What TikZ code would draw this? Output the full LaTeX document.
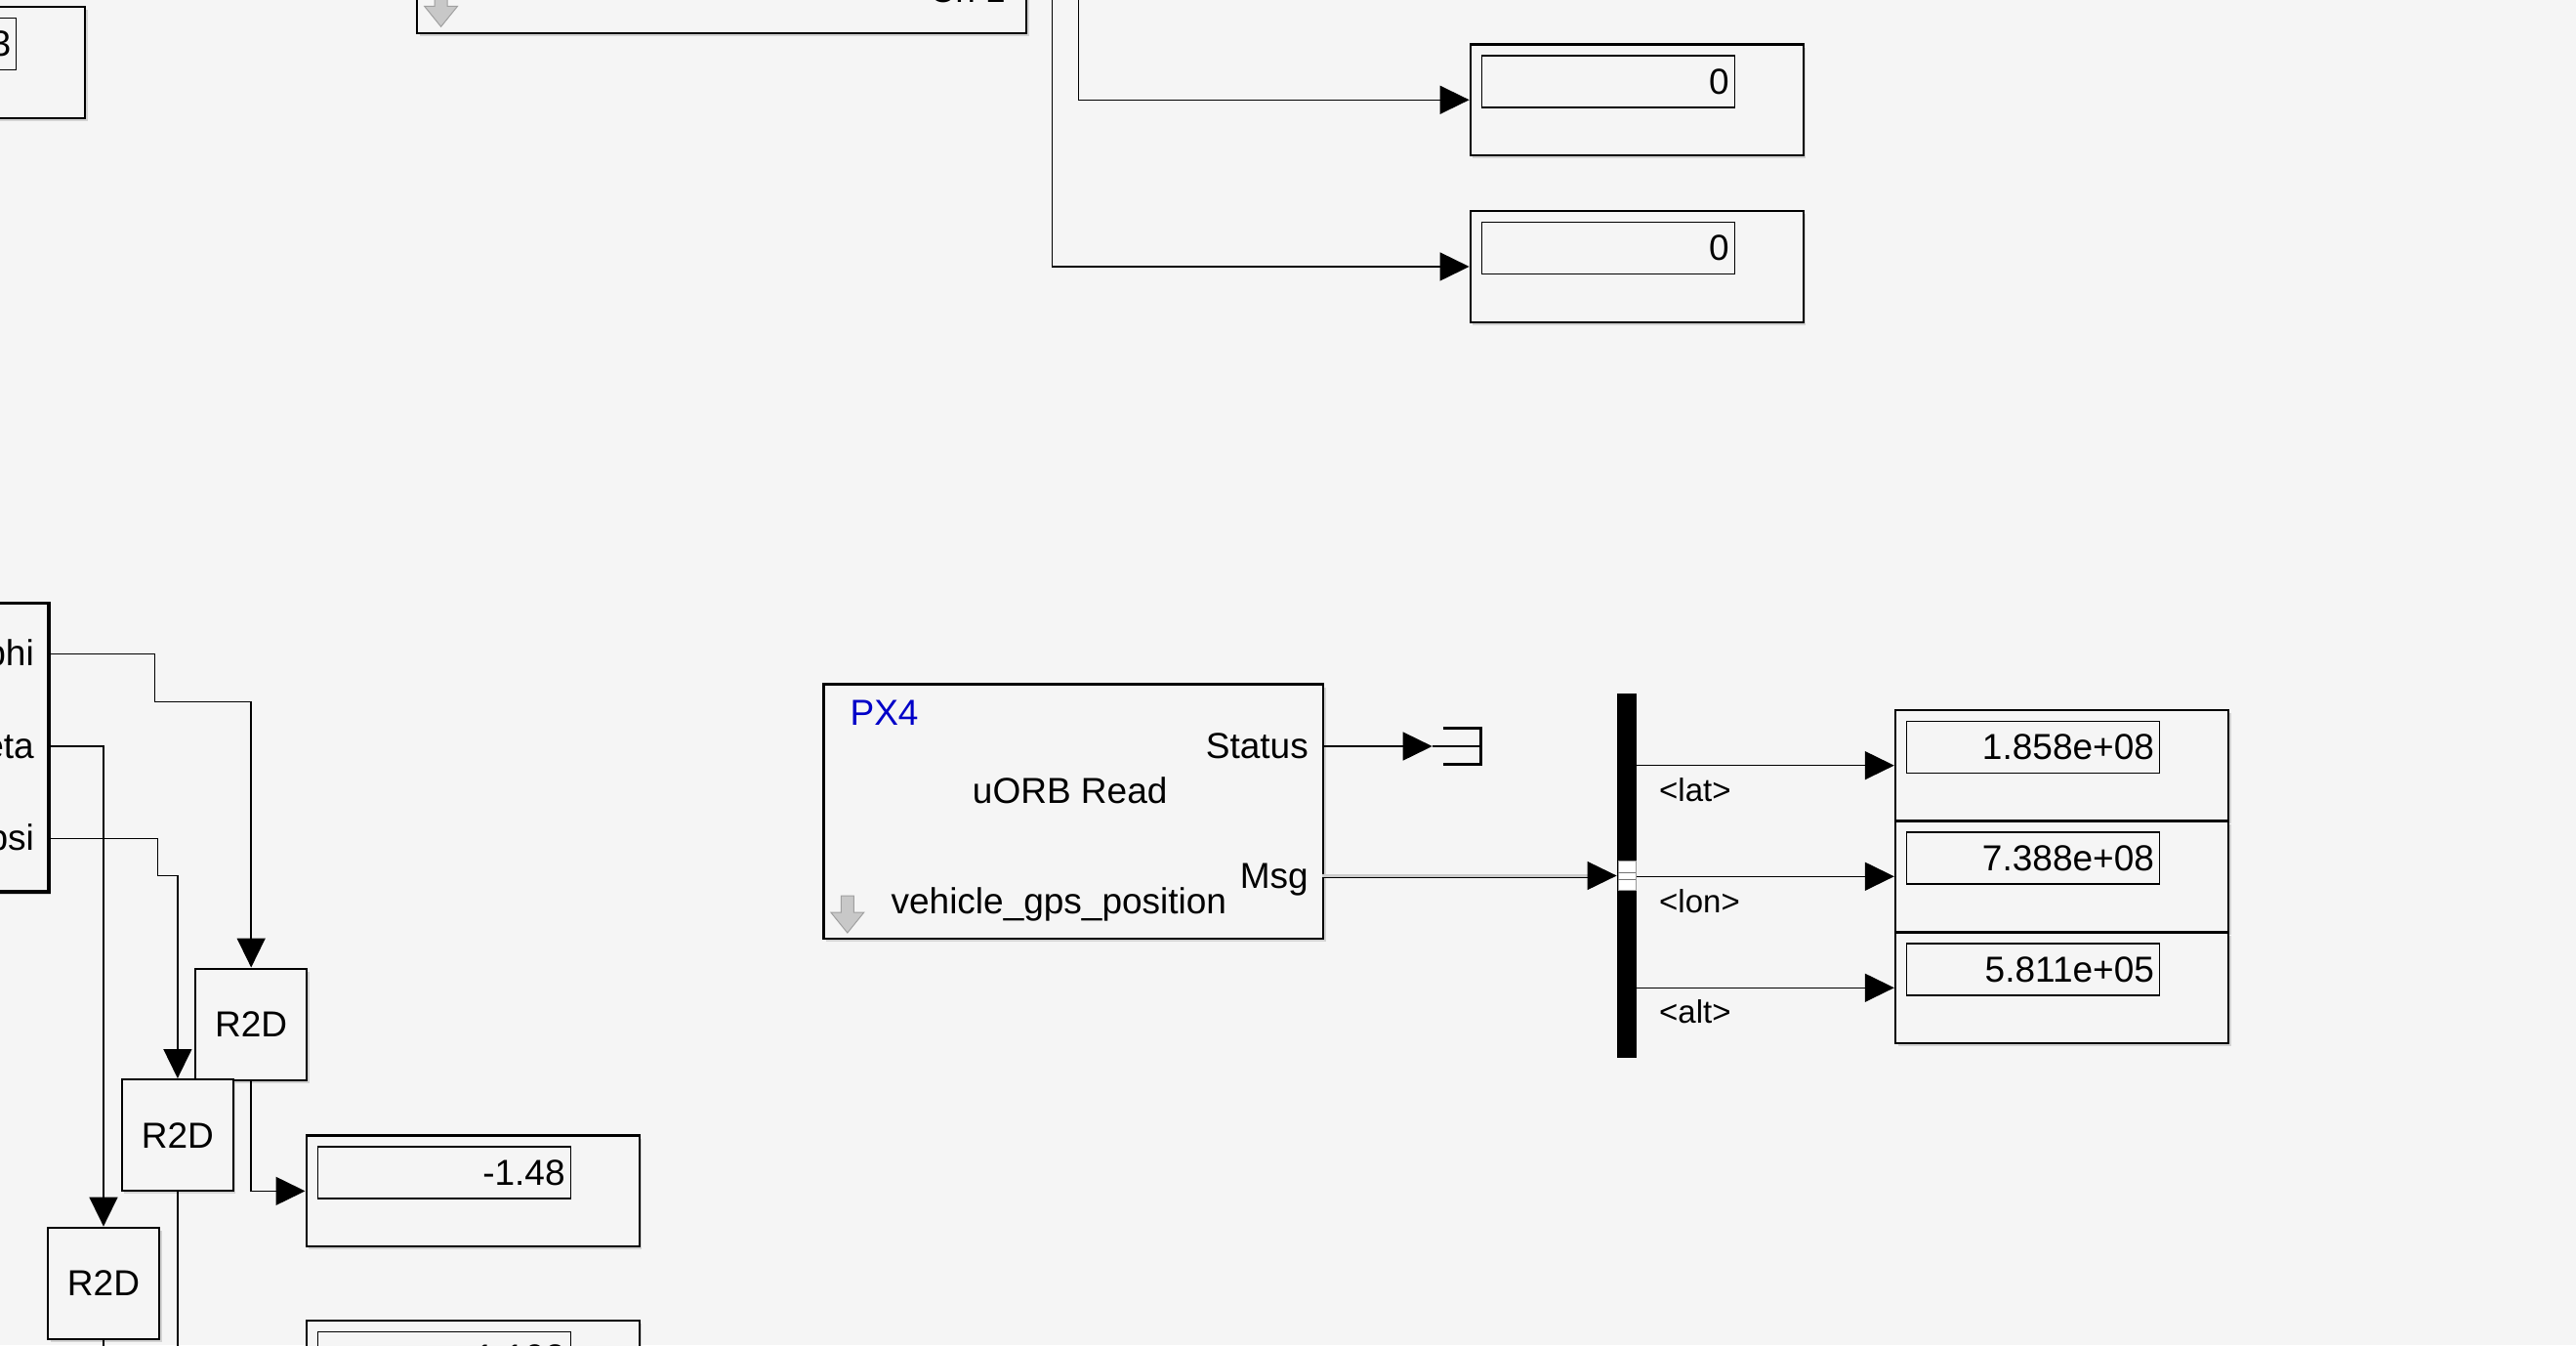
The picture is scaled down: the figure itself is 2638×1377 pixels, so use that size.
\documentclass[tikz,border=0pt]{standalone}
\usepackage{fontspec}
\setmainfont{Liberation Sans}
\usetikzlibrary{arrows.meta,shadows,calc}
\definecolor{bgc}{RGB}{245,245,245}
\definecolor{pxblue}{RGB}{0,0,200}
\definecolor{arrgray}{RGB}{200,200,200}
\definecolor{arredge}{RGB}{160,160,160}
\newcommand{\dispblk}[4]{%
  \node[blk, minimum width=341pt, minimum height=113.5pt] (#1) at (#2,#3) {};
  \node[inbox] (#1in) at (#2+12,#3+12) {};
  \node[lbl, anchor=east] (#1txt) at ($(#1in.east)+(-6,0)$) {#4};
}
\newcommand{\lookarrow}[2]{%
  \path[fill=arrgray, draw=arredge, line width=1pt] (#1-6.5,#2-38) -- (#1+6.5,#2-38) -- (#1+6.5,#2-21) -- (#1+17,#2-21) -- (#1,#2) -- (#1-17,#2-21) -- (#1-6.5,#2-21) -- cycle;
}
\begin{document}
\begin{tikzpicture}[x=1pt,y=-1pt,
  blk/.style={draw=black, line width=2.4pt, fill=bgc, drop shadow={shadow xshift=2.5pt, shadow yshift=-3pt, fill=black!30}, inner sep=0pt, anchor=north west},
  inbox/.style={draw=black, line width=1.3pt, fill=bgc, inner sep=0pt, minimum width=259pt, minimum height=53pt, anchor=north west},
  conn/.style={draw=black, line width=1.5pt, -{Triangle[length=30pt,width=29pt]}},
  wire/.style={draw=black, line width=1.5pt},
  lbl/.style={font=\fontsize{37}{44}\selectfont, inner sep=0pt},
  sig/.style={font=\fontsize{33}{40}\selectfont, inner sep=0pt},
]
\useasboundingbox[fill=bgc] (0,0) rectangle (2638,1377);

% ---- top area ----
\dispblk{dtl}{-255}{6}{3}
\node[blk, minimum width=624pt, minimum height=340pt] (topblk) at (426,-307) {};
\node[lbl, anchor=base east] (toplbl) at (1030,2.5) {Ch 1};
\lookarrow{451.6}{27.3}

\dispblk{d1}{1504.6}{44.3}{0}
\dispblk{d2}{1504.6}{215}{0}
\coordinate (srcA) at (1104.5,-20);
\coordinate (srcB) at (1077.5,-20);
\draw[conn] (srcA) |- (d1.west);
\draw[conn] (srcB) |- (d2.west);

% ---- left area ----
\node[blk, line width=3.5pt, minimum width=300pt, minimum height=295.3pt] (busout) at (-252,615.9) {};
\node[lbl, anchor=base east] (lphi) at (35,681.4) {phi};
\node[lbl, anchor=base east] (ltheta) at (35,776) {theta};
\node[lbl, anchor=base east] (lpsi) at (35,870.7) {psi};
\coordinate (pphi) at (48.2,669.4);
\coordinate (ptheta) at (48.2,764);
\coordinate (ppsi) at (48.2,858.7);

\node[blk, lbl, minimum width=114pt, minimum height=114pt] (r1) at (199,990.5) {R2D};
\node[blk, lbl, minimum width=114pt, minimum height=114pt] (r2) at (123.7,1104) {R2D};
\node[blk, lbl, minimum width=114pt, minimum height=114pt] (r3) at (47.8,1255.6) {R2D};

\draw[conn] (pphi) -- (158.5,669.4) -- (158.5,718.4) -| (r1.north);
\draw[conn] (ptheta) -| (r3.north);
\draw[conn] (ppsi) -- (161.6,858.7) -- (161.6,896.3) -| (r2.north);

\dispblk{d148}{312.5}{1161.4}{-1.48}
\dispblk{dbot}{312.5}{1350.7}{1.102}
\draw[conn] (r1.south) |- (d148.west);
\draw[wire] (r2.south) -- ++(0,200);
\draw[wire] (r3.south) -- ++(0,100);

% ---- PX4 uORB Read ----
\node[blk, minimum width=511.7pt, minimum height=260.7pt] (px4) at (842.3,699.3) {};
\node[lbl, anchor=base west, text=pxblue] (tpx4) at (870.4,742.3) {PX4};
\node[lbl, anchor=base east] (tstatus) at (1340,776.7) {Status};
\node[lbl, anchor=base] (tuorb) at (1095.7,822.7) {uORB Read};
\node[lbl, anchor=base east] (tmsg) at (1340,909.3) {Msg};
\node[lbl, anchor=base west] (ttopic) at (912.4,935.3) {vehicle\_gps\_position};
\lookarrow{867.8}{955}
\coordinate (pstatus) at (1354,764);
\coordinate (pmsg) at (1354,896.5);

% terminator
\node[minimum width=39pt, minimum height=37.3pt, inner sep=0pt] (term) at (1497.2,764) {};
\draw[line width=3pt] (term.north west) -- (term.north east) -- (term.south east) -- (term.south west);
\coordinate (termin) at (1466.7,764);
\draw[conn] (pstatus) -- (termin);
\draw[wire] (termin) -- (term.east);

% ---- bus selector ----
\node[fill=black, draw=none, minimum width=20.4pt, minimum height=372.3pt, inner sep=0pt, anchor=north west] (bsel) at (1655.6,710) {};
\coordinate (bsin) at (1655.6,896.5);
\draw[line width=0.9pt, double=black!20, double distance=2.2pt, -{Triangle[length=30pt,width=29pt]}] (pmsg) -- (bsin);
\node[fill=white, draw=black!40, line width=0.8pt, minimum width=17.5pt, minimum height=29.7pt, inner sep=0pt, anchor=north west] (bsport) at (1657,881) {};
\draw[black!55, line width=1pt] (bsport.west |- 0,893.3) -- (bsport.east |- 0,893.3);
\draw[black!55, line width=1pt] (bsport.west |- 0,900) -- (bsport.east |- 0,900);

\dispblk{dl1}{1939.8}{725.7}{1.858e+08}
\dispblk{dl2}{1939.8}{839.3}{7.388e+08}
\dispblk{dl3}{1939.8}{953.3}{5.811e+05}
\draw[conn] (bsel.east |- dl1.west) -- (dl1.west);
\draw[conn] (bsel.east |- dl2.west) -- (dl2.west);
\draw[conn] (bsel.east |- dl3.west) -- (dl3.west);
\node[sig, anchor=base west] (slat) at (1699,820) {<lat>};
\node[sig, anchor=base west] (slon) at (1699,934) {<lon>};
\node[sig, anchor=base west] (salt) at (1699,1047.7) {<alt>};
\end{tikzpicture}
\end{document}
